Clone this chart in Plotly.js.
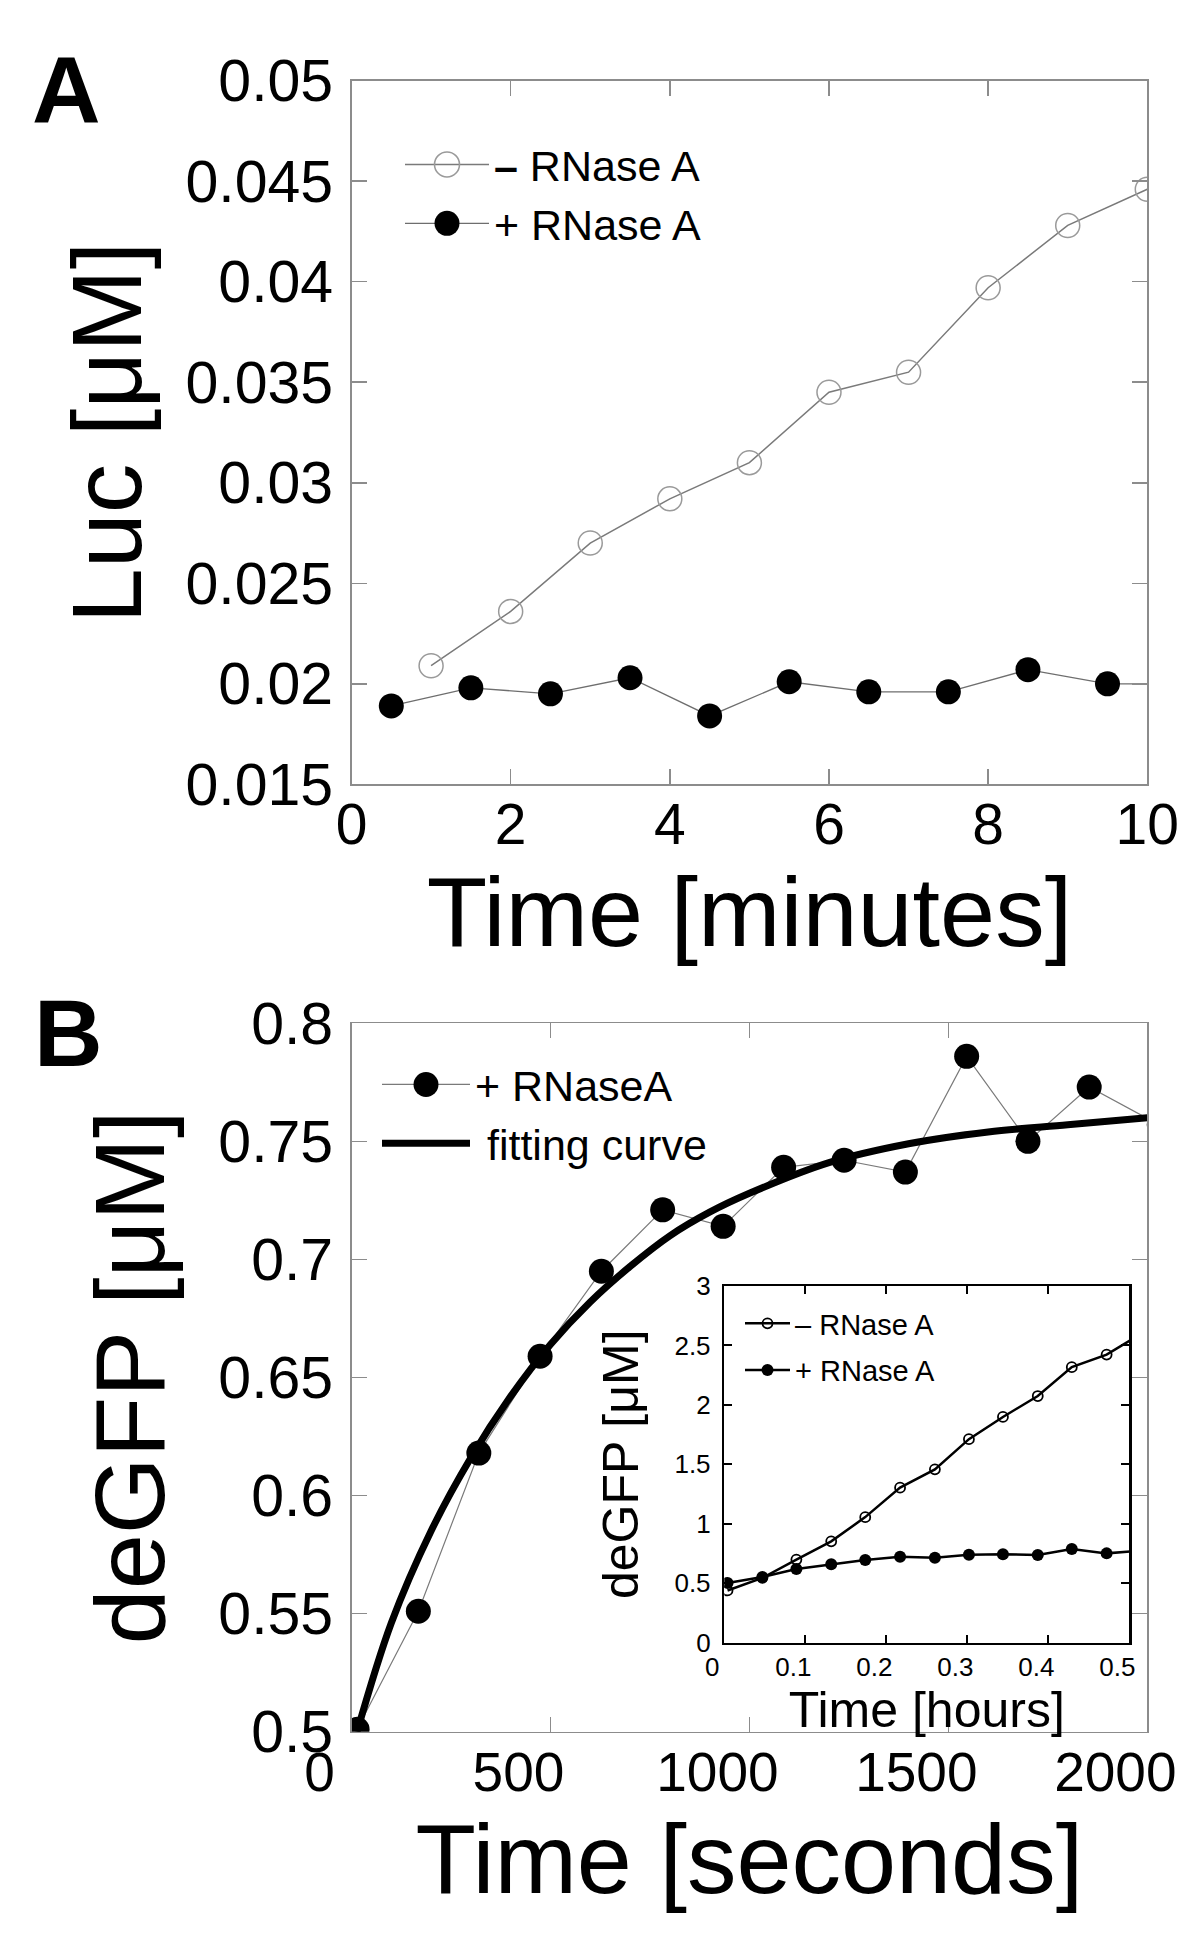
<!DOCTYPE html>
<html>
<head>
<meta charset="utf-8">
<script src="https://cdn.plot.ly/plotly-3.0.1.min.js"></script>
<style>
  html, body { margin: 0; padding: 0; background: #fff; }
  #chart { width: 1200px; height: 1945px; }
</style>
</head>
<body>
<div id="chart"></div>
<script>
// ---------- Panel A: luciferase ----------
const aTimeMinus = [1, 2, 3, 4, 5, 6, 7, 8, 9, 10];
const aLucMinus = [0.0209, 0.0236, 0.0270, 0.0292, 0.0310, 0.0345, 0.0355, 0.0397, 0.0428, 0.0446];
const aTimePlus = [0.5, 1.5, 2.5, 3.5, 4.5, 5.5, 6.5, 7.5, 8.5, 9.5, 10.5];
const aLucPlus = [0.0189, 0.0198, 0.0195, 0.0203, 0.0184, 0.0201, 0.0196, 0.0196, 0.0207, 0.0200, 0.0200];

// ---------- Panel B: deGFP (+RNase A) ----------
const bTimeSec = [14, 168, 320, 474, 628, 782, 934, 1086, 1238, 1392, 1546, 1700, 1854, 2030];
const bDeGFPPlus = [0.501, 0.551, 0.618, 0.659, 0.695, 0.721, 0.714, 0.739, 0.742, 0.737, 0.786, 0.750, 0.773, 0.757];
const fitTimeSec = [14, 100, 200, 300, 400, 500, 600, 700, 800, 900, 1000, 1200, 1400, 1600, 1800, 2000];
const fitDeGFP = [0.500, 0.546, 0.585, 0.616, 0.642, 0.664, 0.682, 0.697, 0.710, 0.720, 0.728, 0.741, 0.749, 0.754, 0.757, 0.760];

// ---------- Inset: deGFP over hours ----------
const insetTimeHours = [0.004, 0.047, 0.089, 0.132, 0.174, 0.217, 0.260, 0.302, 0.344, 0.387, 0.429, 0.472, 0.515];
const insetMinus = [0.438, 0.544, 0.698, 0.851, 1.055, 1.303, 1.457, 1.711, 1.898, 2.074, 2.317, 2.423, 2.600];
const insetPlus = [0.501, 0.551, 0.618, 0.659, 0.695, 0.721, 0.714, 0.739, 0.742, 0.737, 0.786, 0.750, 0.773];

// ---------- labels ----------
const legendMinus = '<b>–</b> RNase A';
const legendPlus = '+ RNase A';
const legendPlusB = '+ RNaseA';
const legendFit = '\u00a0fitting curve';
const insetLegendMinus = '– RNase A';

const FONT = 'Arial, "Liberation Sans", sans-serif';
const W = 1200, H = 1945;
const px = v => v / W;
const py = v => 1 - v / H;

const traces = [
  { x: aTimeMinus, y: aLucMinus, xaxis: 'x', yaxis: 'y', name: legendMinus, legend: 'legend',
    mode: 'lines+markers', line: { color: '#7a7a7a', width: 1.5 },
    marker: { symbol: 'circle-open', size: 24, color: '#9a9a9a', line: { width: 1.5, color: '#9a9a9a' } } },
  { x: aTimePlus, y: aLucPlus, xaxis: 'x', yaxis: 'y', name: legendPlus, legend: 'legend',
    mode: 'lines+markers', line: { color: '#6e6e6e', width: 1.3 },
    marker: { symbol: 'circle', size: 25, color: '#000' } },

  { x: bTimeSec, y: bDeGFPPlus, xaxis: 'x2', yaxis: 'y2', name: legendPlusB, legend: 'legend2',
    mode: 'lines+markers', line: { color: '#7a7a7a', width: 1.2 },
    marker: { symbol: 'circle', size: 25, color: '#000' } },
  { x: fitTimeSec, y: fitDeGFP, xaxis: 'x2', yaxis: 'y2', name: legendFit, legend: 'legend2',
    mode: 'lines', line: { color: '#000', width: 7, shape: 'spline', smoothing: 1 } },

  { x: insetTimeHours, y: insetMinus, xaxis: 'x3', yaxis: 'y3', name: insetLegendMinus, legend: 'legend3',
    legendgroup: 'insetMinus',
    mode: 'lines+markers', line: { color: '#000', width: 2.5 },
    marker: { symbol: 'circle-open', size: 10, color: '#000', line: { width: 1.8, color: '#000' } } },
  { x: insetTimeHours, y: insetPlus, xaxis: 'x3', yaxis: 'y3', name: legendPlus, legend: 'legend3',
    legendgroup: 'insetPlus',
    mode: 'lines+markers', line: { color: '#000', width: 2.5 },
    marker: { symbol: 'circle', size: 12, color: '#000' } }
];

const grayAxis = {
  showline: true, linecolor: '#8c8c8c', linewidth: 1.5, mirror: 'ticks',
  ticks: 'inside', ticklen: 15, tickwidth: 1.5, tickcolor: '#8c8c8c',
  showgrid: false, zeroline: false,
  tickfont: { family: FONT, size: 57, color: '#000' }
};
const blackAxis = {
  showline: true, linecolor: '#000', linewidth: 2.5, mirror: 'ticks',
  ticks: 'inside', ticklen: 8, tickwidth: 2, tickcolor: '#000',
  showgrid: false, zeroline: false,
  tickfont: { family: FONT, size: 26, color: '#000' }
};

const layout = {
  width: W, height: H,
  margin: { l: 0, r: 0, t: 0, b: 0 },
  paper_bgcolor: '#fff', plot_bgcolor: 'rgba(0,0,0,0)',
  font: { family: FONT, color: '#000' },
  showlegend: true,

  xaxis: Object.assign({}, grayAxis, {
    domain: [px(351.5), px(1147.3)], anchor: 'y', range: [0, 10], tick0: 0, dtick: 2,
    ticklabelstandoff: -10,
    title: { text: 'Time [minutes]', font: { family: FONT, size: 99 }, standoff: 17 }
  }),
  yaxis: Object.assign({}, grayAxis, {
    domain: [py(784.3), py(80.7)], anchor: 'x', range: [0.015, 0.05], tick0: 0.015, dtick: 0.005,
    ticklabelstandoff: 5,
    tickfont: { family: FONT, size: 59, color: '#000' },
    title: { text: 'Luc [μM]', font: { family: FONT, size: 99 }, standoff: 11 }
  }),

  xaxis2: Object.assign({}, grayAxis, {
    domain: [px(351.5), px(1147.3)], anchor: 'y2', range: [0, 2000], tick0: 0, dtick: 500,
    ticklabelshift: -32, ticklabelstandoff: -8,
    tickfont: { family: FONT, size: 55, color: '#000' },
    title: { text: 'Time [seconds]', font: { family: FONT, size: 99 }, standoff: 7 }
  }),
  yaxis2: Object.assign({}, grayAxis, {
    domain: [py(1731.7), py(1023.3)], anchor: 'x2', range: [0.5, 0.8], tick0: 0.5, dtick: 0.05,
    ticklabelstandoff: 5,
    tickfont: { family: FONT, size: 59, color: '#000' },
    title: { text: 'deGFP [μM]', font: { family: FONT, size: 99 }, standoff: 20 }
  }),

  xaxis3: Object.assign({}, blackAxis, {
    domain: [px(724.3), px(1129.3)], anchor: 'y3', range: [0, 0.5], tick0: 0, dtick: 0.1,
    ticklabelshift: -12,
    title: { text: 'Time [hours]', font: { family: FONT, size: 50 }, standoff: 2 }
  }),
  yaxis3: Object.assign({}, blackAxis, {
    domain: [py(1642.5), py(1286)], anchor: 'x3', range: [0, 3], tick0: 0, dtick: 0.5,
    ticklabelstandoff: 6,
    title: { text: 'deGFP [μM]', font: { family: FONT, size: 50 }, standoff: 20 }
  }),

  legend: {
    x: px(400), y: py(130), xanchor: 'left', yanchor: 'top',
    bgcolor: 'rgba(0,0,0,0)', borderwidth: 0, itemwidth: 84,
    font: { family: FONT, size: 43, color: '#000' }, traceorder: 'normal'
  },
  legend2: {
    x: px(377), y: py(1050), xanchor: 'left', yanchor: 'top',
    bgcolor: 'rgba(0,0,0,0)', borderwidth: 0, itemwidth: 88,
    font: { family: FONT, size: 43, color: '#000' }, traceorder: 'normal'
  },
  legend3: {
    x: px(740), y: py(1298), xanchor: 'left', yanchor: 'top',
    bgcolor: 'rgba(0,0,0,0)', borderwidth: 0, itemwidth: 45,
    font: { family: FONT, size: 29, color: '#000' }, traceorder: 'grouped', tracegroupgap: 6
  },

  annotations: [
    { text: '<b>A</b>', xref: 'paper', yref: 'paper', x: px(66), y: py(90), xanchor: 'center', yanchor: 'middle',
      showarrow: false, font: { family: FONT, size: 95, color: '#000' } },
    { text: '<b>B</b>', xref: 'paper', yref: 'paper', x: px(68), y: py(1033), xanchor: 'center', yanchor: 'middle',
      showarrow: false, font: { family: FONT, size: 95, color: '#000' } }
  ]
};

Plotly.newPlot('chart', traces, layout, { staticPlot: true, displayModeBar: false }).then(function (gd) {
  // enlarge the legend symbols of panels A and B (Plotly caps legend markers at 16 px)
  gd.querySelectorAll('g.legend .scatterpts, g.legend2 .scatterpts').forEach(function (p) {
    const t = p.getAttribute('transform') || '';
    p.setAttribute('transform', t + ' scale(1.56)');
    if (p.style.strokeWidth) p.style.strokeWidth = '1px';
  });
});
</script>
</body>
</html>
